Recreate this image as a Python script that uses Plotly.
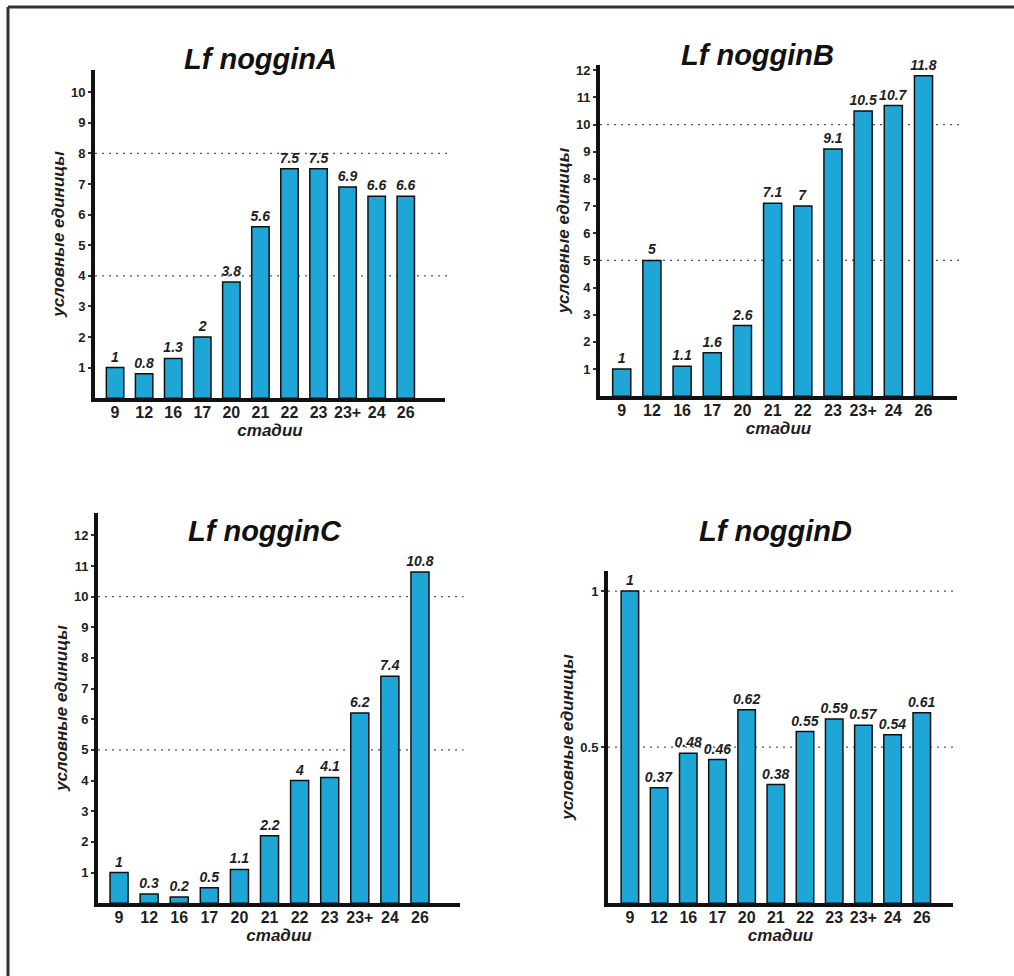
import plotly.graph_objects as go

W, H = 1014, 976

stages = ["9", "12", "16", "17", "20", "21", "22", "23", "23+", "24", "26"]

values_A = [1, 0.8, 1.3, 2, 3.8, 5.6, 7.5, 7.5, 6.9, 6.6, 6.6]
values_B = [1, 5, 1.1, 1.6, 2.6, 7.1, 7, 9.1, 10.5, 10.7, 11.8]
values_C = [1, 0.3, 0.2, 0.5, 1.1, 2.2, 4, 4.1, 6.2, 7.4, 10.8]
values_D = [1, 0.37, 0.48, 0.46, 0.62, 0.38, 0.55, 0.59, 0.57, 0.54, 0.61]

yticks_A = [1, 2, 3, 4, 5, 6, 7, 8, 9, 10]
yticks_B = [1, 2, 3, 4, 5, 6, 7, 8, 9, 10, 11, 12]
yticks_C = [1, 2, 3, 4, 5, 6, 7, 8, 9, 10, 11, 12]
yticks_D = [0.5, 1]

grid_A = [4, 8]
grid_B = [5, 10]
grid_C = [5, 10]
grid_D = [0.5, 1]

titles = ["Lf nogginA", "Lf nogginB", "Lf nogginC", "Lf nogginD"]

FONT = "Liberation Sans, Arial, sans-serif"
BAR_COLOR = "#1ea6d7"
INK = "#111111"
TXT = "#1e1e1e"


def fx(p):
    return p / W


def fy(p):
    return 1 - p / H


panels = [
    dict(v=values_A, t=yticks_A, g=grid_A, xd=(95, 445), yd=(68, 397), xr=[-0.69, 11.35], yr=[0, 10.73], tp=(260, 57)),
    dict(v=values_B, t=yticks_B, g=grid_B, xd=(600, 957), yd=(63, 395), xr=[-0.72, 11.11], yr=[0, 12.2], tp=(757, 53)),
    dict(v=values_C, t=yticks_C, g=grid_C, xd=(98, 460), yd=(512, 903), xr=[-0.70, 11.33], yr=[0, 12.73], tp=(265, 530)),
    dict(v=values_D, t=yticks_D, g=grid_D, xd=(608, 953), yd=(570, 903), xr=[-0.75, 11.07], yr=[0, 1.065], tp=(775, 530)),
]

fig = go.Figure()
shapes = []
annotations = []

for i, p in enumerate(panels, start=1):
    sfx = "" if i == 1 else str(i)
    xa, ya = "x" + sfx, "y" + sfx
    fig.add_trace(go.Bar(
        x=stages, y=p["v"], xaxis=xa, yaxis=ya,
        width=0.6,
        marker=dict(color=BAR_COLOR, line=dict(color=INK, width=1.5)),
        text=[f"{v:g}" for v in p["v"]],
        textposition="outside",
        constraintext="none",
        cliponaxis=False,
        textfont=dict(family=FONT, size=14, color=TXT, weight="bold", style="italic"),
        showlegend=False,
        hoverinfo="x+y",
    ))
    fig.update_layout(**{
        "xaxis" + sfx: dict(
            domain=[fx(p["xd"][0]), fx(p["xd"][1])],
            anchor=ya, range=p["xr"], type="category",
            showline=True, linewidth=4, linecolor=INK,
            showgrid=False, ticks="", zeroline=False,
            tickfont=dict(family=FONT, size=16, color=TXT, weight="bold"),
            ticklabelstandoff=-3,
            title=dict(text="стадии", standoff=2,
                       font=dict(family=FONT, size=17, color=TXT, weight="bold", style="italic")),
        ),
        "yaxis" + sfx: dict(
            domain=[fy(p["yd"][1]), fy(p["yd"][0])],
            anchor=xa, range=p["yr"],
            tickvals=p["t"], ticktext=[f"{t:g}" for t in p["t"]],
            showline=True, linewidth=4, linecolor=INK,
            showgrid=False, zeroline=False,
            ticks="outside", ticklen=3, tickwidth=2, tickcolor="#333333",
            tickfont=dict(family=FONT, size=13, color=TXT, weight="bold"),
            title=dict(text="условные единицы", standoff=3,
                       font=dict(family=FONT, size=17, color=TXT, weight="bold", style="italic")),
        ),
    })
    for g in p["g"]:
        shapes.append(dict(type="line", xref=xa + " domain", yref=ya,
                           x0=0, x1=1.01, y0=g, y1=g, layer="below",
                           line=dict(color="#555555", width=1.3, dash="2px,5px")))
    annotations.append(dict(text=titles[i - 1], xref="paper", yref="paper",
                            x=fx(p["tp"][0]), y=fy(p["tp"][1]),
                            xanchor="center", yanchor="middle", showarrow=False,
                            font=dict(family=FONT, size=29, color="#111111", weight="bold", style="italic")))

# outer frame (top and left edges visible)
shapes.append(dict(type="line", xref="paper", yref="paper", x0=fx(8), x1=1, y0=fy(5), y1=fy(5),
                   line=dict(color="#333333", width=3)))
shapes.append(dict(type="line", xref="paper", yref="paper", x0=fx(8), x1=fx(8), y0=0, y1=fy(5),
                   line=dict(color="#333333", width=3)))

fig.update_layout(
    width=W, height=H,
    margin=dict(l=0, r=0, t=0, b=0),
    paper_bgcolor="white", plot_bgcolor="white",
    shapes=shapes, annotations=annotations,
)

fig.write_html("out.html", config={"displayModeBar": False},
               post_script="document.body.style.margin='0';document.body.style.overflow='hidden';")
